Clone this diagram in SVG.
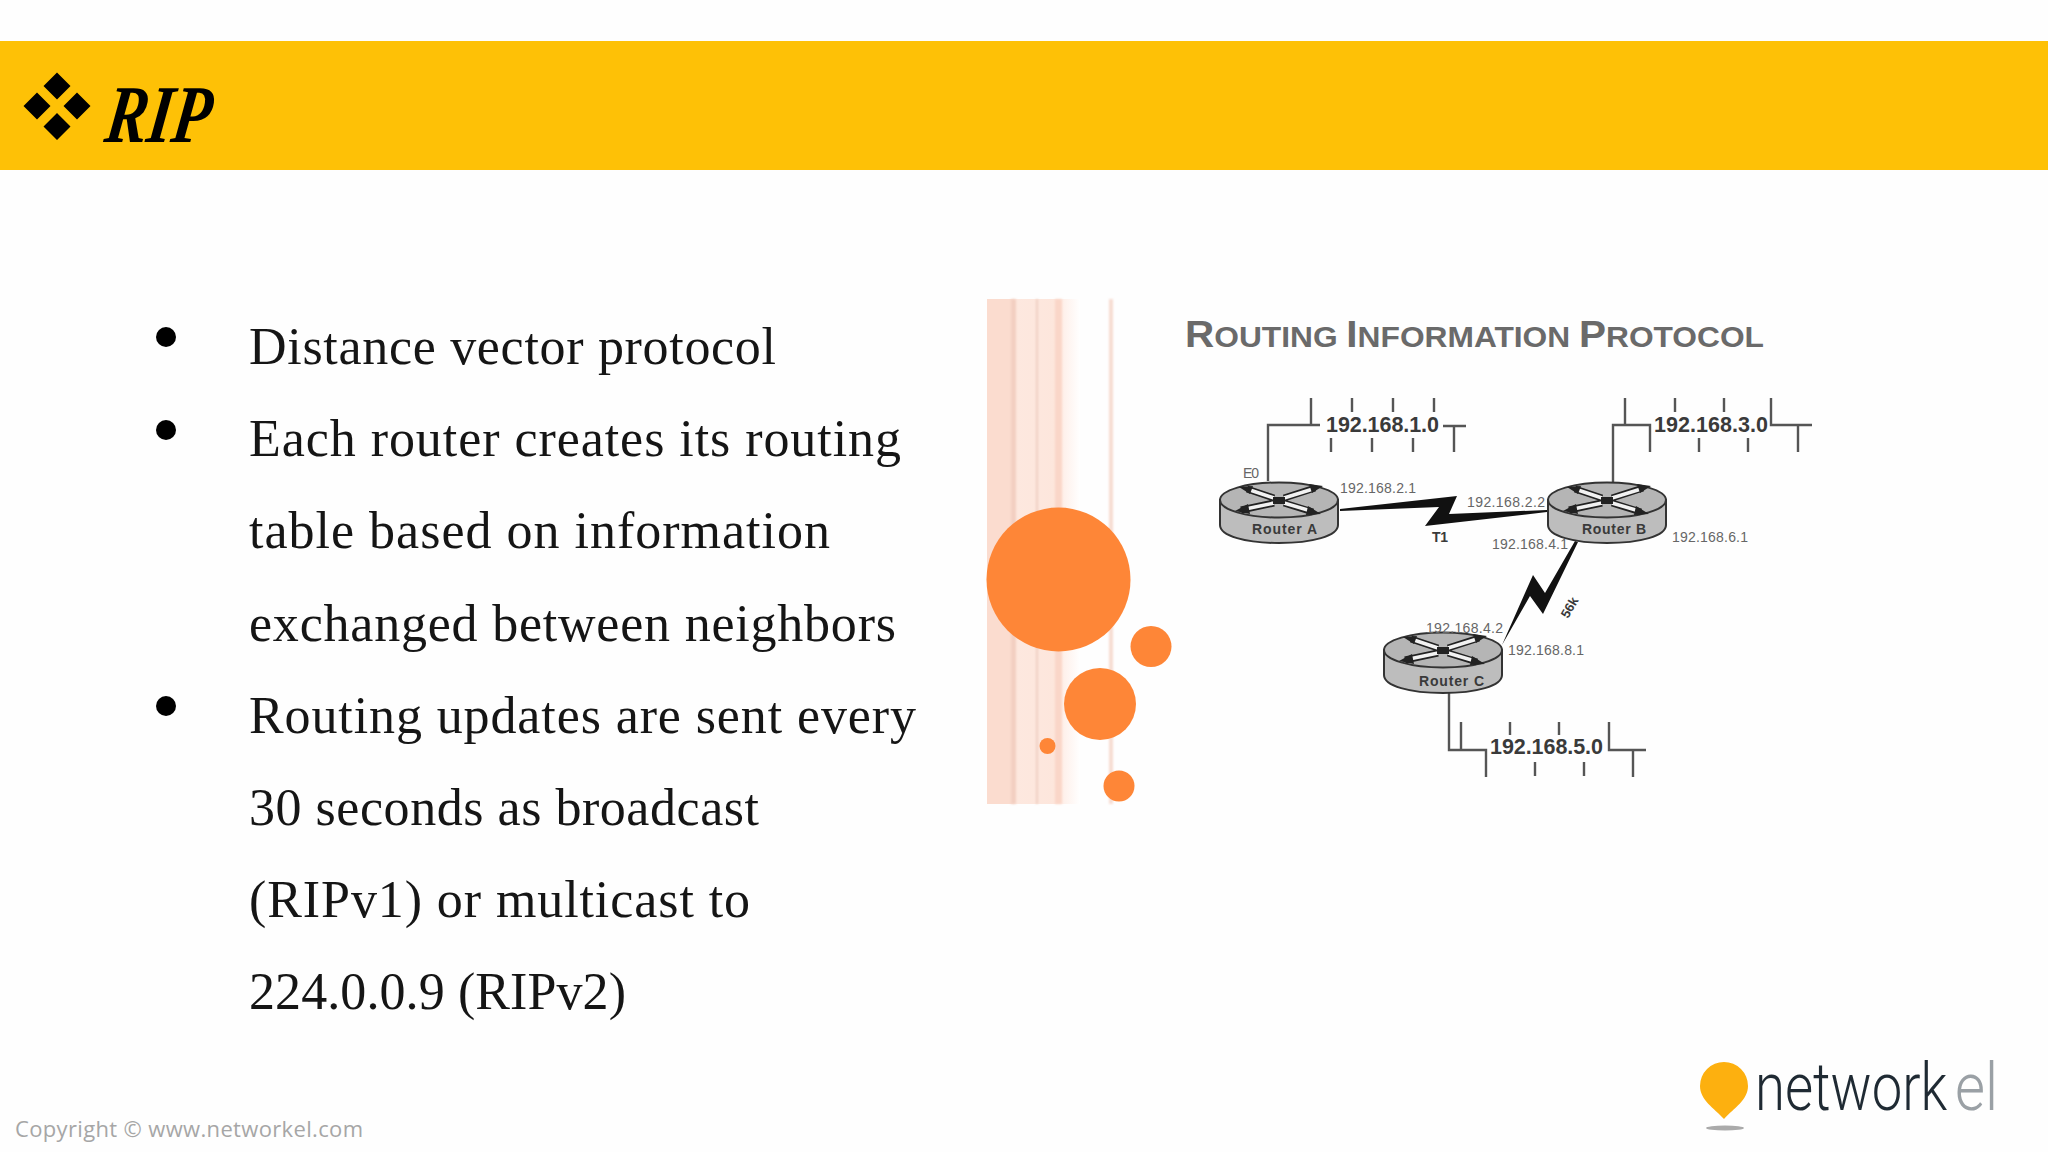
<svg xmlns="http://www.w3.org/2000/svg" width="2048" height="1152" viewBox="0 0 2048 1152">
<style>
.body{font-family:"Liberation Serif",serif;font-size:52px;fill:#151515}
.net{font-family:"Liberation Sans",Arial,sans-serif;font-size:21.500px;font-weight:700;fill:#3a3a3a}
.ip{font-family:"Liberation Sans",Arial,sans-serif;font-size:14px;fill:#666}
.rt{font-family:"Liberation Sans",Arial,sans-serif;font-size:14px;font-weight:700;fill:#3a3a3a}
.w{fill:none;stroke:#555;stroke-width:2.400}
.orange{fill:#fe8637}
.logo{font-family:Roboto,sans-serif;font-weight:300;font-size:66px}
</style>
<defs>
<linearGradient id="strip" x1="0" x2="1" y1="0" y2="0">
<stop offset="0" stop-color="#fbdccf"/><stop offset=".26" stop-color="#fbdccf"/><stop offset=".3" stop-color="#fde8df"/><stop offset=".74" stop-color="#fde6dc"/><stop offset=".82" stop-color="#fef0ea"/><stop offset="1" stop-color="#fff"/>
</linearGradient>
<filter id="soft" x="-20%" y="-2%" width="140%" height="104%"><feGaussianBlur stdDeviation="1"/></filter>
<g id="router">
<path d="M-59 0V25C-59 36-33 43 0 43S59 36 59 25V0Z" fill="#bdbdbd" stroke="#333" stroke-width="2"/>
<ellipse cx="0" cy="0" rx="59" ry="17.500" fill="#b5b5b5" stroke="#333" stroke-width="2"/>
<path d="M-32-11 L-5-2 M5-2 L36-12 M-5 3 L-38 10 M5 3 L34 12" fill="none" stroke="#222" stroke-width="7"/>
<path d="M-32-11 L-5-2 M5-2 L34-11 M-5 3 L-36 9.500 M5 3 L32 11" fill="none" stroke="#f2f2f2" stroke-width="3.500"/>
<path d="M-40-13-26-14-29-6ZM44-14 30-16 33-7ZM-44 11-31 4-29 14ZM42 14 29 6 27 15ZM-6-3 6-3 6 4-6 4Z" fill="#222"/>
</g>
</defs>
<rect width="2048" height="1152" fill="#fefefe"/>

<g id="banner">
<rect x="0" y="41" width="2048" height="129" fill="#fec106"/>
<path d="M57 72.500 70.500 86 57 99.500 43.500 86ZM77 92.500 90.500 106 77 119.500 63.500 106ZM37 92.500 50.500 106 37 119.500 23.500 106ZM57 113 70.500 126.500 57 140 43.500 126.500Z" fill="#000"/>
<text transform="translate(103 142) skewX(-8)" font-family="Liberation Serif,serif" font-style="italic" font-weight="700" font-size="82" textLength="105" lengthAdjust="spacingAndGlyphs" fill="#000">RIP</text>
</g>

<g id="bullets">
<circle cx="166" cy="337" r="10" fill="#000"/>
<circle cx="166" cy="430" r="10" fill="#000"/>
<circle cx="166" cy="706" r="10" fill="#000"/>
<text class="body" x="249" y="364" textLength="527">Distance vector protocol</text>
<text class="body" x="249" y="456" textLength="652">Each router creates its routing</text>
<text class="body" x="249" y="548" textLength="581">table based on information</text>
<text class="body" x="249" y="641" textLength="647">exchanged between neighbors</text>
<text class="body" x="249" y="733" textLength="667">Routing updates are sent every</text>
<text class="body" x="249" y="825" textLength="510">30 seconds as broadcast</text>
<text class="body" x="249" y="917" textLength="501">(RIPv1) or multicast to</text>
<text class="body" x="249" y="1009" textLength="377">224.0.0.9 (RIPv2)</text>
</g>

<g id="decor">
<rect x="987" y="299" width="93" height="505" fill="url(#strip)"/>
<g filter="url(#soft)">
<rect x="1011" y="299" width="5" height="505" fill="#f3cfc1"/>
<rect x="1036" y="299" width="2" height="505" fill="#efcfc3"/>
<rect x="1055" y="299" width="7" height="505" fill="#fad6c8"/>
<rect x="1109" y="299" width="4" height="505" fill="#f7dcd2"/>
</g>
<circle class="orange" cx="1058.500" cy="579.500" r="72"/>
<circle class="orange" cx="1151" cy="646.500" r="20.500"/>
<circle class="orange" cx="1100" cy="704" r="36"/>
<circle class="orange" cx="1047.500" cy="746" r="8"/>
<circle class="orange" cx="1119" cy="786" r="15.500"/>
</g>

<text id="diagram-title" x="1185" y="347" font-family="Liberation Sans,Arial,sans-serif" font-weight="700" font-size="37" textLength="579" lengthAdjust="spacingAndGlyphs" fill="#6a6a6a">R<tspan font-size="29">OUTING </tspan>I<tspan font-size="29">NFORMATION </tspan>P<tspan font-size="29">ROTOCOL</tspan></text>

<g id="connectors">
<path class="w" d="M1268 481V425H1320M1311 398V425M1352 398V412M1393 398V412M1434 398V412M1331 438V452M1372 438V452M1413 438V452M1443 426H1466M1454 426V452"/>
<path class="w" d="M1613 482V425H1650V452M1625 398V425M1675 398V412M1724 398V412M1771 398V425H1812M1798 426V452M1699 438V452M1748 438V452"/>
<path class="w" d="M1449 693V750H1486V777M1461 722V750M1510 722V735M1559 722V735M1609 722V750H1646M1633 750V777M1535 762V776M1584 762V776"/>
<path d="M1340 509 1457 496 1449 514 1547 510V512L1425 526 1439 507 1340 511Z" fill="#111"/>
<path d="M1502 645 1533 575 1545 593 1575 541 1578 542 1543 614 1530 596Z" fill="#111"/>
</g>

<g id="router-a">
<use href="#router" x="1279" y="500"/>
<text class="rt" x="1252" y="534" textLength="65">Router A</text>
<text class="ip" x="1243" y="478" textLength="16">E0</text>
<text class="ip" x="1340" y="493" textLength="76">192.168.2.1</text>
</g>
<g id="router-b">
<use href="#router" x="1607" y="500"/>
<text class="rt" x="1582" y="534" textLength="64">Router B</text>
<text class="ip" x="1467" y="507" textLength="78">192.168.2.2</text>
<text class="ip" x="1492" y="549" textLength="76">192.168.4.1</text>
<text class="ip" x="1672" y="542" textLength="76">192.168.6.1</text>
</g>
<g id="router-c">
<use href="#router" x="1443" y="650"/>
<text class="rt" x="1419" y="686" textLength="65">Router C</text>
<text class="ip" x="1426" y="633" textLength="77">192.168.4.2</text>
<text class="ip" x="1508" y="655" textLength="76">192.168.8.1</text>
</g>
<g id="net-1"><text class="net" x="1326" y="432" textLength="113">192.168.1.0</text></g>
<g id="net-3"><text class="net" x="1654" y="432" textLength="114">192.168.3.0</text></g>
<g id="net-5"><text class="net" x="1490" y="754" textLength="113">192.168.5.0</text></g>
<g id="link-labels">
<text class="rt" x="1432" y="542" textLength="16">T1</text>
<text class="rt" transform="translate(1568 619) rotate(-60)" style="font-size:13px">56k</text>
</g>

<g id="logo">
<path d="M1724 1119C1714 1108 1700 1100 1700 1086A24 24 0 0 1 1748 1086C1748 1100 1734 1108 1724 1119Z" fill="#fdb00f"/>
<ellipse cx="1725" cy="1128" rx="19" ry="2.500" fill="#aaa"/>
<text class="logo" transform="translate(1755 1110) scale(.825 1)" fill="#1f2a33">network</text>
<text class="logo" transform="translate(1955 1110) scale(.88 1)" fill="#9aa0a5">el</text>
</g>
<text id="copyright" x="15" y="1137" font-family="Open Sans,sans-serif" font-size="22" textLength="348" fill="#a6a6a6">Copyright © www.networkel.com</text>
</svg>
